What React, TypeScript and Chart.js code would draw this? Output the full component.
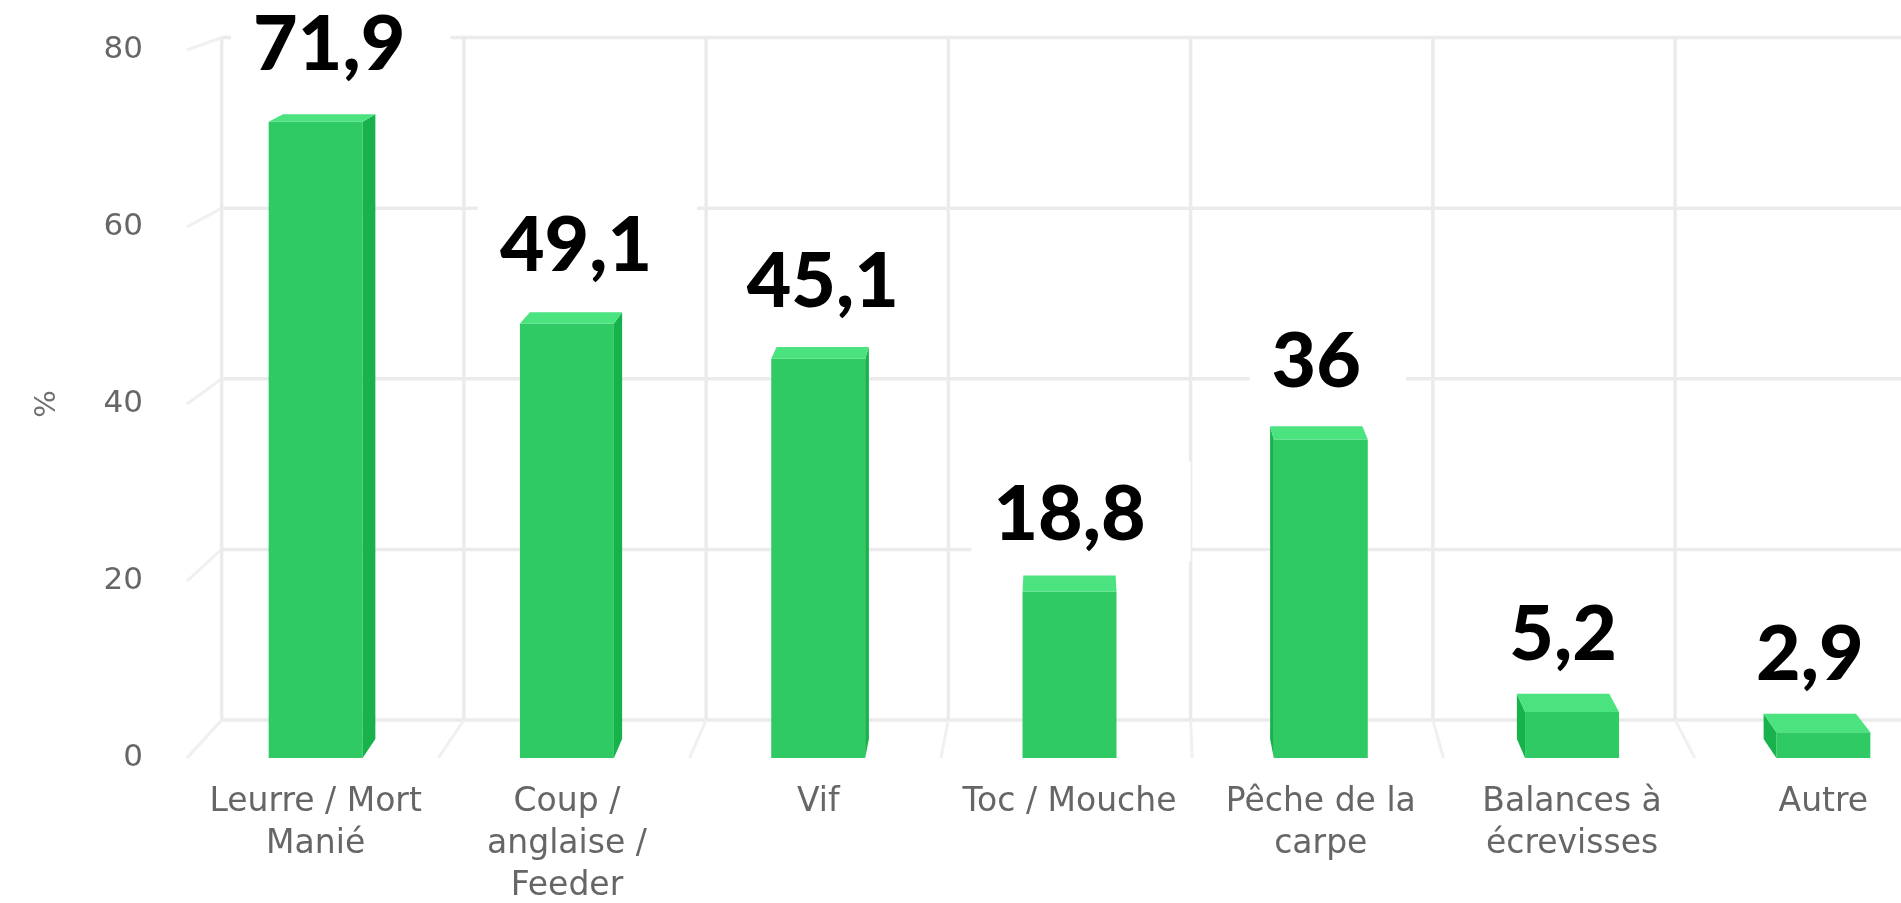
import { useEffect, useRef } from 'react';
import { Chart, registerables } from 'chart.js';

Chart.register(...registerables);

// ---- data ----
const categories: string[][] = [
  ['Leurre / Mort', 'Manié'],
  ['Coup /', 'anglaise /', 'Feeder'],
  ['Vif'],
  ['Toc / Mouche'],
  ['Pêche de la', 'carpe'],
  ['Balances à', 'écrevisses'],
  ['Autre'],
];
const values: number[] = [71.9, 49.1, 45.1, 18.8, 36, 5.2, 2.9];
const yTicks: number[] = [0, 20, 40, 60, 80];
const yTitle = '%';

// ---- layout / style ----
const W = 2000;
const H = 903;
const PLOT_LEFT = 190;
const PLOT_RIGHT = 1949;
const PLOT_TOP = 50;
const PLOT_BOTTOM = 758;
const WALL_K = 0.964; // depth of the back wall (perspective scale)
const BAR_K = 0.982; // depth of the bars
const VY_ABOVE_TOP = 347; // vanishing point above plot top

const FRONT = '#2fca64';
const TOP = '#4ae37f';
const SIDE = '#17b24b';
const GRID = '#ebebeb';
const GRID_DIAG = '#f0f0f0';
const LABEL_FONT = "'DejaVu Sans', sans-serif";

type Pt = { x: number; y: number };

function project(x: number, y: number, k: number, area: any): Pt {
  const vx = (area.left + area.right) / 2;
  const vy = area.top - VY_ABOVE_TOP;
  return { x: vx + k * (x - vx), y: vy + k * (y - vy) };
}

function line(ctx: CanvasRenderingContext2D, a: Pt, b: Pt, color: string, w: number) {
  ctx.beginPath();
  ctx.moveTo(a.x, a.y);
  ctx.lineTo(b.x, b.y);
  ctx.strokeStyle = color;
  ctx.lineWidth = w;
  ctx.stroke();
}

function poly(ctx: CanvasRenderingContext2D, pts: Pt[], color: string) {
  ctx.beginPath();
  ctx.moveTo(pts[0].x, pts[0].y);
  for (let i = 1; i < pts.length; i++) ctx.lineTo(pts[i].x, pts[i].y);
  ctx.closePath();
  ctx.fillStyle = color;
  ctx.fill();
}

const wallPlugin = {
  id: 'wall3d',
  beforeDatasetsDraw(chart: any) {
    const { ctx, chartArea: area, scales } = chart;
    const xS = scales.x;
    const yS = scales.y;
    ctx.save();
    // back wall horizontal grid + left wall diagonals
    yTicks.forEach((v) => {
      const yF = yS.getPixelForValue(v);
      const a = project(area.left, yF, WALL_K, area);
      const b = project(area.right, yF, WALL_K, area);
      line(ctx, { x: area.left - 3, y: yF }, a, GRID_DIAG, 3);
      line(ctx, a, b, GRID, 3.5);
    });
    // back wall verticals + floor diagonals
    for (let i = 0; i <= categories.length; i++) {
      const xF = xS.getPixelForValue(i - 0.5);
      const bb = project(xF, area.bottom, WALL_K, area);
      const bt = project(xF, area.top, WALL_K, area);
      line(ctx, bb, bt, GRID, 3.5);
      line(ctx, { x: xF - 3, y: area.bottom }, bb, GRID_DIAG, 3);
    }
    ctx.restore();
  },
  afterDatasetsDraw(chart: any) {
    const { ctx, chartArea: area } = chart;
    const meta = chart.getDatasetMeta(0);
    ctx.save();
    meta.data.forEach((bar: any) => {
      const { x, y, base, width } = bar.getProps(['x', 'y', 'base', 'width'], true);
      const l = x - width / 2;
      const r = x + width / 2;
      const FTL = { x: l, y };
      const FTR = { x: r, y };
      const FBL = { x: l, y: base };
      const FBR = { x: r, y: base };
      const BTL = project(l, y, BAR_K, area);
      const BTR = project(r, y, BAR_K, area);
      const BBL = project(l, base, BAR_K, area);
      const BBR = project(r, base, BAR_K, area);
      if (BTR.x > r + 0.5) poly(ctx, [FTR, BTR, BBR, FBR], SIDE);
      if (BTL.x < l - 0.5) poly(ctx, [FTL, BTL, BBL, FBL], SIDE);
      poly(ctx, [FTL, FTR, BTR, BTL], TOP);
    });
    // data labels
    ctx.font = "900 77px Lato, 'DejaVu Sans', sans-serif";
    ctx.textAlign = 'center';
    ctx.textBaseline = 'alphabetic';
    meta.data.forEach((bar: any, i: number) => {
      const { x, y } = bar.getProps(['x', 'y'], true);
      const cx = project(x, y, BAR_K, area).x;
      const text = String(values[i]).replace('.', ',');
      const w = ctx.measureText(text).width;
      const baseline = y - 52;
      ctx.fillStyle = '#ffffff';
      ctx.fillRect(cx - w / 2 - 22, baseline - 78, w + 22 + 45, 100);
      ctx.fillStyle = '#000000';
      ctx.fillText(text, cx, baseline);
    });
    ctx.restore();
  },
};

export default function App() {
  const ref = useRef<HTMLCanvasElement>(null);
  useEffect(() => {
    const chart = new Chart(ref.current as HTMLCanvasElement, {
      type: 'bar',
      data: {
        labels: categories,
        datasets: [
          {
            data: values,
            backgroundColor: FRONT,
            borderWidth: 0,
            barPercentage: 0.374,
            categoryPercentage: 1,
          },
        ],
      },
      options: {
        responsive: false,
        animation: false,
        layout: { padding: { left: 0, top: PLOT_TOP, right: W - PLOT_RIGHT, bottom: 0 } },
        plugins: { legend: { display: false }, tooltip: { enabled: false } },
        scales: {
          x: {
            type: 'category',
            offset: true,
            grid: { display: false, drawTicks: false },
            border: { display: false },
            ticks: {
              color: '#666666',
              font: { family: LABEL_FONT, size: 33, lineHeight: 1.28 },
              padding: 23,
              maxRotation: 0,
              minRotation: 0,
              autoSkip: false,
            },
            afterFit: (s: any) => {
              s.height = H - PLOT_BOTTOM;
            },
          },
          y: {
            min: 0,
            max: 80,
            grid: { display: false, drawTicks: false },
            border: { display: false },
            afterBuildTicks: (s: any) => {
              s.ticks = yTicks.map((v) => ({ value: v }));
            },
            ticks: {
              color: '#666666',
              font: { family: LABEL_FONT, size: 31, lineHeight: 0.1 },
              padding: 47,
            },
            title: {
              display: true,
              text: yTitle,
              color: '#707070',
              font: { family: LABEL_FONT, size: 29 },
              padding: { top: 30, bottom: 0 },
            },
            afterFit: (s: any) => {
              s.width = PLOT_LEFT;
            },
          },
        },
      } as any,
      plugins: [wallPlugin],
    });
    return () => chart.destroy();
  }, []);
  return (
    <div
      style={{
        position: 'fixed',
        left: 0,
        top: 0,
        width: 1901,
        height: 903,
        overflow: 'hidden',
        background: '#ffffff',
      }}
    >
      <canvas ref={ref} width={W} height={H} style={{ width: W, height: H, display: 'block' }} />
    </div>
  );
}
